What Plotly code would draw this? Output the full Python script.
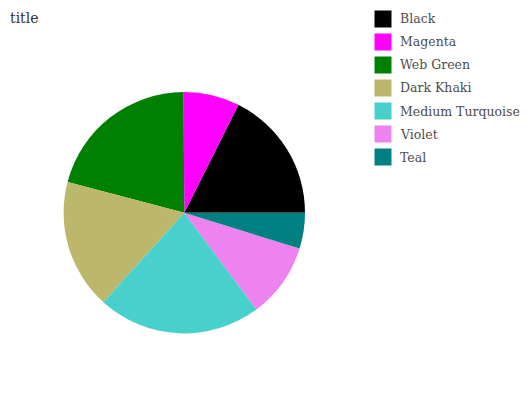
import plotly.graph_objects as go

labels = ["Black", "Magenta", "Web Green", "Dark Khaki", "Medium Turquoise", "Violet", "Teal"]
values = [17.6, 7.5, 20.8, 17.4, 21.9, 10.0, 4.8]
colors = ["#000000", "#ff00ff", "#008000", "#bdb76b", "#48d1cc", "#ee82ee", "#008080"]

W, H = 532, 400
cx, cy, r = 184.3, 212.7, 120.7

total = sum(values)
# Black slice runs counterclockwise from 3 o'clock
rotation = 90 - 360 * values[0] / total

fig = go.Figure(go.Pie(
    labels=labels,
    values=values,
    marker=dict(colors=colors, line=dict(width=0)),
    sort=False,
    direction="counterclockwise",
    rotation=rotation,
    textinfo="none",
    hoverinfo="label+percent",
    showlegend=False,
    domain=dict(x=[(cx - r) / W, (cx + r) / W], y=[1 - (cy + r) / H, 1 - (cy - r) / H]),
))

# Custom legend (swatches + labels)
shapes = []
annotations = []
lx0, lx1, sq = 374.5, 391.5, 17
ty0, step = 19, 23
for i, (lab, col) in enumerate(zip(labels, colors)):
    yc = ty0 + step * i
    shapes.append(dict(type="rect", xref="paper", yref="paper",
                       x0=lx0 / W, x1=lx1 / W,
                       y0=1 - (yc + sq / 2) / H, y1=1 - (yc - sq / 2) / H,
                       fillcolor=col, line=dict(width=0)))
    annotations.append(dict(text=lab, xref="paper", yref="paper",
                            x=397.5 / W, y=1 - yc / H, xanchor="left", yanchor="middle",
                            showarrow=False,
                            font=dict(family="DejaVu Serif", size=12.5, color="#4d4d4d")))

fig.update_layout(
    width=W, height=H,
    margin=dict(l=0, r=0, t=0, b=0),
    paper_bgcolor="white",
    plot_bgcolor="white",
    font=dict(family="DejaVu Serif", color="#444444"),
    title=dict(text="title", x=10 / W, xanchor="left", y=1 - 18 / H, yanchor="middle",
               font=dict(family="DejaVu Serif", size=14, color="#333333")),
    shapes=shapes,
    annotations=annotations,
)

fig.write_html("out.html")
